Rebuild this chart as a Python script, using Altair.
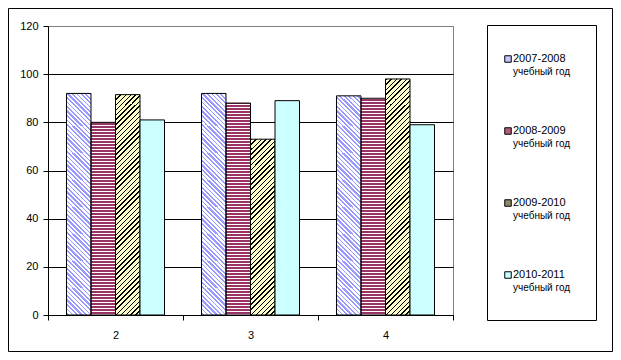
import math
import altair as alt
import pandas as pd

# ---------------- data ----------------
categories = ["2", "3", "4"]
series_years = ["2007-2008", "2008-2009", "2009-2010", "2010-2011"]
series_suffix = "учебный год"
values_0708 = [92, 92, 91]
values_0809 = [80, 88, 90]
values_0910 = [91.5, 73, 98]
values_1011 = [81, 89, 79]
y_ticks = [0, 20, 40, 60, 80, 100, 120]

series_values = [values_0708, values_0809, values_0910, values_1011]

# ---------------- layout / style ----------------
PLOT_W, PLOT_H = 405, 289
PAD = {"left": 40, "top": 18, "right": 160, "bottom": 37}
OX, OY = 8 + PAD["left"], 8 + PAD["top"]  # absolute page position of plot origin
BASE_ABS = OY + PLOT_H
Y_MAX = 120
UNIT = Y_MAX / PLOT_H  # data units per pixel
PO = 0.755  # outer padding of the offset band scale
STEP = PLOT_W / len(categories)
BW = STEP / (len(series_years) + 2 * PO)

FONT = "Liberation Sans"
legend_colors = ["#c4c4ff", "#b0607f", "#8c8c66", "#CCFFFF"]
# pattern: (kind, period px, on length px, on colour, off colour, segment px)
patterns = [
    ("back", 4.5, 2.0, "#9999FF", "#FFFFFF", 27),
    ("horiz", 3.0, 2.0, "#993366", "#FFFFFF", 27),
    ("fwd", 5.0, 1.8, "#000000", "#FFFFCC", 30),
]


def stripe_stops(length, base, period, on_len, col_on, col_off):
    stops = []
    a = math.floor(base / period) * period
    end = base + length
    while a < end:
        for s0, s1, col in ((a, a + on_len, col_on), (a + on_len, a + period, col_off)):
            lo, hi = max(s0, base), min(s1, end)
            if hi > lo:
                stops.append({"offset": round((lo - base) / length, 5), "color": col})
                stops.append({"offset": round((hi - base) / length, 5), "color": col})
        a += period
    return stops


def gradient(si, L, T, w, h):
    kind, P, on, c_on, c_off, _ = patterns[si]
    m = (w + h) / (w * w + h * h)
    if kind == "back":
        stops = stripe_stops(w + h, L - T - h, P, on, c_on, c_off)
        return {"gradient": "linear", "x1": 0, "y1": 1, "x2": m * w, "y2": 1 - m * h, "stops": stops}
    if kind == "horiz":
        stops = stripe_stops(h, T, P, on, c_on, c_off)
        return {"gradient": "linear", "x1": 0, "y1": 0, "x2": 0, "y2": 1, "stops": stops}
    stops = stripe_stops(w + h, L + T, P, on, c_on, c_off)
    return {"gradient": "linear", "x1": 0, "y1": 0, "x2": m * w, "y2": m * h, "stops": stops}


x_enc = alt.X(
    "cat:N",
    scale=alt.Scale(domain=categories, paddingInner=0, paddingOuter=0),
    axis=alt.Axis(
        title=None, labelAngle=0, tickBand="extent", grid=False,
        domainColor="black", tickColor="black", tickSize=5, labelPadding=9,
        labelFont=FONT, labelFontSize=11, labelColor="black",
    ),
)
xo_enc = alt.XOffset(
    "series:N",
    scale=alt.Scale(domain=series_years, paddingInner=0, paddingOuter=PO),
)
y_scale = alt.Scale(domain=[0, Y_MAX], nice=False, zero=True)
y_axis = alt.Axis(
    title=None, values=y_ticks, grid=True,
    gridColor={"condition": {"test": "datum.value === 120", "value": "#808080"}, "value": "black"},
    domainColor="black", tickColor="black", tickSize=5, labelPadding=5,
    labelFont=FONT, labelFontSize=11, labelColor="black",
)

layers = []
for si in range(3):
    seg = patterns[si][5]
    for ci, c in enumerate(categories):
        v = series_values[si][ci]
        h = v / UNIT
        L = OX + ci * STEP + (PO + si) * BW
        n_full = int(h // seg)
        if n_full > 0:
            df = pd.DataFrame({
                "cat": [c] * n_full, "series": [series_years[si]] * n_full,
                "y0": [j * seg * UNIT for j in range(n_full)],
                "y1": [(j + 1) * seg * UNIT for j in range(n_full)],
            })
            layers.append(
                alt.Chart(df).mark_bar(fill=gradient(si, L, BASE_ABS - seg, BW, seg), strokeWidth=0)
                .encode(x=x_enc, xOffset=xo_enc,
                        y=alt.Y("y0:Q", scale=y_scale, axis=y_axis), y2="y1:Q")
            )
        rest = h - n_full * seg
        if rest > 0.05:
            df = pd.DataFrame({"cat": [c], "series": [series_years[si]],
                               "y0": [n_full * seg * UNIT], "y1": [v]})
            layers.append(
                alt.Chart(df).mark_bar(fill=gradient(si, L, BASE_ABS - h, BW, rest), strokeWidth=0)
                .encode(x=x_enc, xOffset=xo_enc,
                        y=alt.Y("y0:Q", scale=y_scale, axis=y_axis), y2="y1:Q")
            )

bars_df = pd.DataFrame({
    "cat": categories * 4,
    "series": [s for s in series_years for _ in categories],
    "value": [v for vals in series_values for v in vals],
})
outline = (
    alt.Chart(bars_df)
    .mark_bar(stroke="black", strokeWidth=1)
    .encode(
        x=x_enc, xOffset=xo_enc,
        y=alt.Y("value:Q", scale=y_scale, axis=y_axis),
        fill=alt.Fill("series:N", scale=alt.Scale(domain=series_years,
                      range=["transparent", "transparent", "transparent", "#CCFFFF"]), legend=None),
    )
)
layers.append(outline)

one = pd.DataFrame({"k": [0]})
outer_frame = alt.Chart(one).mark_rect(fill="transparent", stroke="black", strokeWidth=1).encode(
    x=alt.value(-39.5), x2=alt.value(564.5), y=alt.value(-17.5), y2=alt.value(325.5)
)
legend_box = alt.Chart(one).mark_rect(fill="transparent", stroke="black", strokeWidth=1).encode(
    x=alt.value(439.5), x2=alt.value(548.5), y=alt.value(-0.5), y2=alt.value(294.5)
)
layers += [outer_frame, legend_box]

main = alt.layer(*layers).resolve_scale(fill="independent")

leg_df = pd.DataFrame({"series": series_years, "suffix": [series_suffix] * 4})
leg_y = alt.Y("series:N", scale=alt.Scale(domain=series_years, range=[33, 249], padding=0), axis=None)
leg_sym = alt.Chart(leg_df).mark_square(size=42, opacity=1, stroke="black", strokeWidth=1).encode(
    x=alt.value(460), y=leg_y,
    fill=alt.Fill("series:N", scale=alt.Scale(domain=series_years, range=legend_colors), legend=None),
)
leg_t1 = alt.Chart(leg_df).mark_text(align="left", baseline="middle", font=FONT, fontSize=11, color="black").encode(
    x=alt.value(465), y=leg_y, text="series:N"
)
leg_t2 = alt.Chart(leg_df).mark_text(align="left", baseline="middle", font=FONT, fontSize=10, color="black", dy=13).encode(
    x=alt.value(465), y=leg_y, text="suffix:N"
)
legend = alt.layer(leg_sym, leg_t1, leg_t2)

chart = (
    alt.layer(main, legend)
    .resolve_scale(y="independent", fill="independent")
    .properties(
        width=PLOT_W, height=PLOT_H,
        autosize=alt.AutoSizeParams(type="none"),
        padding=PAD,
        background="white",
    )
    .configure_view(stroke="#808080", strokeWidth=1)
)

chart.save("out.html", embed_options={"renderer": "svg", "actions": False})
